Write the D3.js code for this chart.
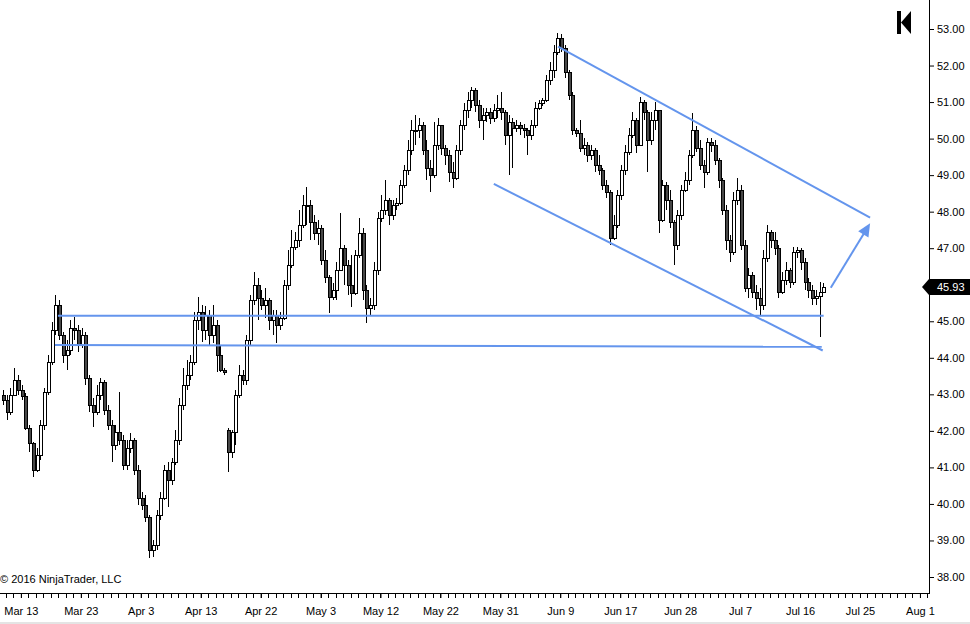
<!DOCTYPE html>
<html><head><meta charset="utf-8">
<script src="https://cdn.jsdelivr.net/npm/d3@7"></script>
<style>
html,body{margin:0;padding:0;background:#fff;}
svg{display:block;font-family:"Liberation Sans",Arial,sans-serif;}
</style></head><body>
<svg id="chart" width="970" height="624"></svg>
<script>
// ---- OHLC bars ----
const opens = [
42.98,42.84,42.52,42.98,43.39,43.12,42.95,42.08,41.67,40.93,
41.34,42.16,43.06,43.88,44.76,45.44,44.62,44.08,44.21,44.82,
44.76,44.35,44.62,43.45,42.71,42.52,42.98,43.34,42.57,42.16,
41.61,41.97,41.75,41.06,41.53,41.75,40.93,40.16,39.97,39.64,
38.74,38.88,39.70,40.16,40.93,40.65,41.15,41.75,42.71,43.25,
43.53,43.88,45.03,45.25,44.76,45.17,44.62,44.90,44.08,43.66,
42.02,41.42,41.97,42.98,43.53,43.39,44.49,45.58,45.99,45.64,
45.44,45.58,45.03,45.17,44.90,45.09,45.99,46.54,47.03,47.22,
47.63,48.18,48.18,47.72,47.42,47.55,46.68,46.21,45.66,45.86,
46.40,47.00,46.54,45.99,45.77,46.81,47.42,45.86,45.36,45.44,
46.40,47.83,48.05,48.32,47.91,48.18,48.24,48.73,49.14,49.69,
50.24,50.24,50.37,49.69,49.20,49.00,49.82,50.37,49.74,49.55,
49.09,48.92,49.69,50.37,50.78,51.06,51.33,50.92,50.51,50.65,
50.73,50.56,50.78,50.84,50.73,50.10,50.45,50.29,50.37,50.29,
50.24,50.10,50.37,50.84,50.97,51.06,51.60,51.88,52.37,52.75,
52.48,51.82,51.19,50.24,50.15,49.74,49.82,49.55,49.69,49.28,
49.14,48.73,48.54,47.28,47.63,48.46,49.14,49.63,50.10,50.51,
49.82,51.00,50.73,49.96,50.51,50.78,47.77,48.73,48.32,47.72,
47.09,47.91,48.59,48.87,49.55,50.24,49.74,49.28,49.09,49.91,
49.82,49.41,48.87,48.05,47.22,46.89,48.32,48.59,47.09,45.91,
46.27,45.80,45.64,45.44,46.73,47.44,47.22,47.00,45.80,46.13,
46.40,46.07,46.89,46.95,46.62,46.07,45.86,45.64,45.69,45.80];
const highs = [
43.12,42.98,43.17,43.72,43.53,43.25,43.04,42.16,41.69,41.53,
42.30,43.17,44.08,44.98,45.72,45.58,44.71,44.49,45.03,45.12,
44.90,44.82,44.71,43.53,42.90,43.25,43.45,43.39,42.71,42.30,
42.16,43.06,41.89,41.75,41.94,41.80,41.06,40.33,40.24,39.70,
39.01,39.83,40.33,41.06,41.15,41.26,42.02,42.90,43.72,43.94,
44.08,45.25,45.66,45.44,45.42,45.31,45.44,45.03,44.35,43.72,
42.08,42.02,43.12,43.80,43.66,44.62,45.72,46.35,46.18,45.86,
45.91,45.64,45.31,45.31,45.25,46.13,46.95,47.50,47.44,48.05,
48.46,48.67,48.32,47.91,47.77,47.63,46.95,46.27,46.05,46.62,
47.96,47.09,46.68,46.81,46.95,47.83,47.55,45.99,45.64,46.62,
47.99,48.46,48.87,48.37,48.32,48.37,48.87,49.28,49.96,50.51,
50.65,50.56,50.45,49.96,49.41,50.45,50.56,50.37,49.82,49.69,
49.36,49.82,50.51,50.97,51.28,51.41,51.39,51.06,50.84,50.84,
50.84,50.95,51.19,51.28,50.78,50.65,50.56,50.51,50.45,50.40,
50.29,50.51,51.00,51.06,51.11,51.74,52.10,52.56,52.89,52.86,
52.56,51.88,51.28,50.29,50.51,50.02,49.91,49.82,49.74,49.55,
49.20,48.87,48.59,47.91,48.59,49.28,49.82,50.29,50.73,50.56,
51.14,51.06,50.78,50.73,51.00,50.73,48.87,48.81,48.59,47.77,
48.05,48.73,49.09,49.69,50.70,50.34,49.96,49.41,50.02,50.02,
49.96,49.47,48.92,48.18,47.36,48.54,48.92,48.73,47.22,46.46,
46.35,45.99,45.91,46.95,47.63,47.50,47.44,47.09,46.35,46.62,
46.46,47.03,47.03,47.00,46.73,46.18,45.99,45.86,46.07,46.05];
const lows = [
42.71,42.30,42.43,43.06,42.98,42.84,42.02,41.42,40.74,40.87,
41.20,42.02,42.98,43.80,44.62,44.49,43.86,43.66,44.08,44.49,
44.16,44.27,43.25,42.52,42.11,42.43,42.84,42.43,42.02,41.15,
41.48,41.61,40.93,40.93,41.39,40.79,39.97,39.83,39.50,38.52,
38.55,38.74,39.56,40.11,39.92,40.52,41.06,41.61,42.57,43.12,
43.39,43.80,44.76,44.43,44.49,44.35,44.40,43.61,43.61,43.53,
40.87,41.26,41.61,42.90,43.25,43.25,44.35,45.44,45.03,45.31,
45.09,44.76,44.62,44.40,44.76,45.03,45.86,46.46,46.95,47.03,
47.55,47.63,47.22,47.22,47.09,46.54,46.05,45.23,45.58,45.58,
46.40,45.99,45.72,45.39,45.72,46.73,45.58,44.95,45.17,45.31,
46.27,47.72,47.91,47.63,47.77,48.05,48.18,48.65,49.00,49.55,
49.82,50.02,49.55,48.87,48.54,48.92,49.69,49.55,49.28,48.81,
48.65,48.87,49.55,50.24,50.56,50.84,50.73,50.29,49.96,50.45,
50.40,50.45,50.56,50.51,49.82,49.00,49.20,50.18,50.10,50.02,
49.55,49.96,50.29,50.78,50.89,51.00,51.47,51.66,52.29,52.37,
51.66,51.06,50.10,50.04,49.63,49.55,49.36,49.41,49.09,49.00,
48.59,48.37,47.09,47.22,47.55,48.32,49.00,49.55,50.02,49.61,
49.82,50.51,49.09,49.82,50.24,47.42,47.72,48.05,47.55,46.54,
46.95,47.77,48.54,48.73,49.47,49.63,49.14,48.65,49.00,49.63,
49.28,48.65,47.91,46.95,46.62,46.81,48.18,46.95,45.80,45.64,
45.64,45.31,45.17,45.31,46.62,47.00,46.81,45.64,45.75,45.99,
45.91,45.99,46.73,46.40,45.86,45.64,45.44,45.44,44.57,45.80];
const closes = [
42.84,42.52,42.98,43.39,43.12,42.95,42.08,41.67,40.93,41.34,
42.16,43.06,43.88,44.76,45.44,44.62,44.08,44.21,44.82,44.76,
44.35,44.62,43.45,42.71,42.52,42.98,43.34,42.57,42.16,41.61,
41.97,41.75,41.06,41.53,41.75,40.93,40.16,39.97,39.64,38.74,
38.88,39.70,40.16,40.93,40.65,41.15,41.75,42.71,43.25,43.53,
43.88,45.03,45.25,44.76,45.17,44.62,44.90,44.08,43.66,43.61,
41.42,41.97,42.98,43.53,43.39,44.49,45.58,45.99,45.64,45.44,
45.58,45.03,45.17,44.90,45.09,45.99,46.54,47.03,47.22,47.63,
48.18,48.18,47.72,47.42,47.55,46.68,46.21,45.66,45.86,46.40,
47.00,46.54,45.99,45.77,46.81,47.42,45.86,45.36,45.44,46.40,
47.83,48.05,48.32,47.91,48.18,48.24,48.73,49.14,49.69,50.24,
50.24,50.37,49.69,49.20,49.00,49.82,50.37,49.74,49.55,49.09,
48.92,49.69,50.37,50.78,51.06,51.33,50.92,50.51,50.65,50.73,
50.56,50.78,50.84,50.73,50.10,50.45,50.29,50.37,50.29,50.24,
50.10,50.37,50.84,50.97,51.06,51.60,51.88,52.37,52.75,52.48,
51.82,51.19,50.24,50.15,49.74,49.82,49.55,49.69,49.28,49.14,
48.73,48.54,47.28,47.63,48.46,49.14,49.63,50.10,50.51,49.82,
51.00,50.73,49.96,50.51,50.78,47.77,48.73,48.32,47.72,47.09,
47.91,48.59,48.87,49.55,50.24,49.74,49.28,49.09,49.91,49.82,
49.41,48.87,48.05,47.22,46.89,48.32,48.59,47.09,45.91,46.27,
45.80,45.64,45.44,46.73,47.44,47.22,47.00,45.80,46.13,46.40,
46.07,46.89,46.95,46.62,46.07,45.86,45.64,45.69,45.80,45.93];

// ---- axis labels ----
const dateLabels = ["Mar 13","Mar 23","Apr 3","Apr 13","Apr 22","May 3","May 12","May 22",
                    "May 31","Jun 9","Jun 17","Jun 28","Jul 7","Jul 16","Jul 25","Aug 1"];
const dateLabelBars = [4.5,20.5,36.5,52.5,68.5,84.5,100.5,116.5,132.5,148.5,164.5,180.5,196.5,212.5,228.5,244.5];
const priceTicks = [38,39,40,41,42,43,44,45,46,47,48,49,50,51,52,53];

// ---- drawings: [bar index, price] ----
const channelUpper = [[147.9, 52.52], [231.2, 47.84]];
const channelLower = [[130.75, 48.76], [218.55, 44.20]];
const supportUpper = [[14.4, 45.15], [218.8, 45.15]];
const supportLower = [[13.6, 44.35], [218.3, 44.30]];
const arrowPts = [[220.7, 45.92], [231.2, 47.68]];

const FONT = '"Liberation Sans", Arial, sans-serif';
const svg = d3.select("#chart");
const plotRight = 929, plotBottom = 593;
const xs = d3.scaleLinear().domain([0, closes.length - 1]).range([4, 824.4]);
const ys = d3.scaleLinear().domain([38, 53]).range([577, 29]);

svg.append("rect").attr("width", 970).attr("height", 624).attr("fill", "#fff");
svg.append("rect").attr("x", 0).attr("y", 622).attr("width", 970).attr("height", 2).attr("fill", "#e4e4e4");

const bars = closes.map((c, i) => ({ i, o: opens[i], h: highs[i], l: lows[i], c }));

const gBars = svg.append("g").attr("shape-rendering", "crispEdges");
gBars.selectAll("line").data(bars).join("line")
  .attr("x1", d => Math.round(xs(d.i)) - 0.5)
  .attr("x2", d => Math.round(xs(d.i)) - 0.5)
  .attr("y1", d => Math.round(ys(d.h)))
  .attr("y2", d => Math.round(ys(d.l)))
  .attr("stroke", "#000").attr("stroke-width", 1);
gBars.selectAll("rect").data(bars).join("rect")
  .attr("x", d => Math.round(xs(d.i)) - 1.5)
  .attr("width", 3)
  .attr("y", d => Math.round(ys(Math.max(d.o, d.c))) + 0.5)
  .attr("height", d => Math.max(1, Math.round(ys(Math.min(d.o, d.c))) - Math.round(ys(Math.max(d.o, d.c)))))
  .attr("fill", d => d.c >= d.o ? "#fff" : "#474747")
  .attr("stroke", "#000").attr("stroke-width", 1);

// ---- trend lines ----
const BLUE = "#6495ED";
const lineGen = d3.line().x(d => xs(d[0])).y(d => ys(d[1]));
[channelUpper, channelLower, supportUpper, supportLower].forEach(pts => {
  svg.append("path").attr("d", lineGen(pts)).attr("fill", "none")
    .attr("stroke", BLUE).attr("stroke-width", 2);
});
// arrow
{
  const x0 = xs(arrowPts[0][0]), y0 = ys(arrowPts[0][1]);
  const x1 = xs(arrowPts[1][0]), y1 = ys(arrowPts[1][1]);
  const len = Math.hypot(x1 - x0, y1 - y0);
  const ux = (x1 - x0) / len, uy = (y1 - y0) / len;
  const hl = 13, hw = 6;
  const bx = x1 - ux * hl, by = y1 - uy * hl;
  svg.append("line").attr("x1", x0).attr("y1", y0).attr("x2", bx + ux * 2).attr("y2", by + uy * 2)
    .attr("stroke", BLUE).attr("stroke-width", 2);
  svg.append("path")
    .attr("d", `M${x1},${y1}L${bx - uy * hw},${by + ux * hw}L${bx + uy * hw},${by - ux * hw}Z`)
    .attr("fill", BLUE);
}

// ---- axes ----
const yAxis = d3.axisRight(ys).tickValues(priceTicks).tickFormat(d3.format(".2f")).tickSize(5).tickSizeOuter(0);
const ya = svg.append("g").attr("transform", `translate(${plotRight},0)`).call(yAxis)
  .attr("font-size", 11).attr("font-family", FONT);
ya.select(".domain").remove();
ya.selectAll("text").attr("fill", "#000").attr("x", 8);
ya.selectAll("line").attr("stroke", "#000");

const xAxis = d3.axisBottom(xs).tickValues(dateLabelBars).tickFormat((d, i) => dateLabels[i]).tickSize(5).tickSizeOuter(0);
const xa = svg.append("g").attr("transform", `translate(0,${plotBottom})`).call(xAxis)
  .attr("font-size", 11).attr("font-family", FONT);
xa.select(".domain").remove();
xa.selectAll("text").attr("y", 14).attr("fill", "#000");
xa.selectAll("line").attr("stroke", "#000");

const minor = d3.range(0.5, 247, 2);
svg.append("g").attr("shape-rendering", "crispEdges").selectAll("line").data(minor).join("line")
  .attr("x1", d => Math.round(xs(d)) + 0.5).attr("x2", d => Math.round(xs(d)) + 0.5)
  .attr("y1", plotBottom).attr("y2", plotBottom + 5).attr("stroke", "#000");

svg.append("line").attr("x1", 0).attr("x2", plotRight + 0.5).attr("y1", plotBottom + 0.5).attr("y2", plotBottom + 0.5)
  .attr("stroke", "#000").attr("shape-rendering", "crispEdges");
svg.append("line").attr("x1", plotRight + 0.5).attr("x2", plotRight + 0.5).attr("y1", 0).attr("y2", plotBottom + 0.5)
  .attr("stroke", "#000").attr("shape-rendering", "crispEdges");

// ---- last price tag ----
const last = closes[closes.length - 1];
const ty = Math.round(ys(last));
svg.append("path").attr("d", `M922,${ty}L929,${ty - 8}L970,${ty - 8}L970,${ty + 8}L929,${ty + 8}Z`).attr("fill", "#000");
svg.append("text").attr("x", 937).attr("y", ty).attr("dy", "0.34em").attr("fill", "#fff")
  .attr("font-size", 11).attr("font-family", FONT).text(d3.format(".2f")(last));

// ---- scroll-to-end icon ----
svg.append("rect").attr("x", 897).attr("y", 11).attr("width", 4).attr("height", 23).attr("fill", "#000");
svg.append("path").attr("d", "M901,22.5L911,11L911,34Z").attr("fill", "#000");

// ---- copyright ----
svg.append("text").attr("x", 0).attr("y", 583).attr("font-size", 11).attr("font-family", FONT)
  .attr("fill", "#000").text("© 2016 NinjaTrader, LLC");
</script>
</body></html>
